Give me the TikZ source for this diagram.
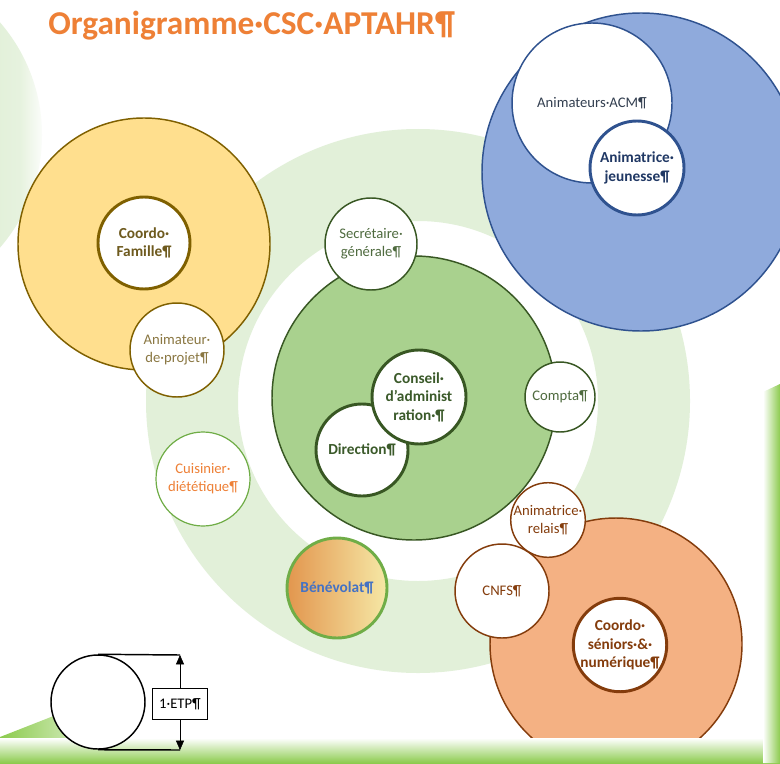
\documentclass[tikz,border=0pt]{standalone}
\usepackage{fontspec}
\setmainfont{Carlito}
\usetikzlibrary{arrows.meta}

\definecolor{ringvert}{HTML}{E2F0D9}
\definecolor{barvert}{HTML}{8CCB4E}
\definecolor{titreorange}{HTML}{EE8036}
\definecolor{polejaune}{HTML}{FFDF8E}
\definecolor{polejauneb}{HTML}{7F6000}
\definecolor{polebleu}{HTML}{8FAADC}
\definecolor{polebleub}{HTML}{2F528F}
\definecolor{polevert}{HTML}{A9D18E}
\definecolor{polevertb}{HTML}{385723}
\definecolor{poleorange}{HTML}{F4B183}
\definecolor{poleorangeb}{HTML}{843C0C}
\definecolor{vertclair}{HTML}{70AD47}
\definecolor{benevhaut}{HTML}{E2964E}
\definecolor{benevbas}{HTML}{F6E8A6}
\definecolor{txtvert}{HTML}{4F6B3F}
\definecolor{txtvertf}{HTML}{3B5A2A}
\definecolor{txtjaune}{HTML}{6E5A1E}
\definecolor{txtjaunec}{HTML}{8A7742}
\definecolor{txtbleu}{HTML}{333F50}
\definecolor{txtbleuf}{HTML}{203864}
\definecolor{txtbenev}{HTML}{4472C4}

\begin{document}
\begin{tikzpicture}[x=0.75pt, y=-0.75pt,
        pole/.style={circle, draw, line width=1.1pt, inner sep=0pt, minimum size=1.5pt*#1},
        poste/.style={circle, draw, fill=white, line width=1.1pt, inner sep=0pt, align=center,
                font=\fontsize{11}{13.5}\selectfont, minimum size=1.5pt*#1},
        fort/.style={line width=2.2pt, font=\fontsize{11.5}{13.8}\selectfont\bfseries}]
        \useasboundingbox (0,0) rectangle (780,763);
        \clip (0,0) rectangle (780,763);
        \fill[white] (0,0) rectangle (780,763);

        % fond
        \begin{scope}
                \clip (-130,135) circle[radius=129pt];
                \shade[left color=ringvert, right color=white, middle color=ringvert!85!white] (-5,0) rectangle (46,320);
        \end{scope}
        \fill[ringvert, even odd rule] (418,401) circle[radius=204pt] (418,401) circle[radius=135pt];

        % poles
        \node[pole=126, fill=polejaune, draw=polejauneb] (famille) at (144,244) {};
        \node[pole=159, fill=polebleu, draw=polebleub] (jeunesse) at (641,172) {};
        \node[pole=142, fill=polevert, draw=polevertb] (direct) at (414,398) {};
        \node[pole=126, fill=poleorange, draw=poleorangeb] (seniors) at (616,644) {};

        % famille
        \node[poste=46, fort, draw=polejauneb, text=txtjaune] (coordofam) at (144,243) {Coordo·\\Famille¶};
        \node[poste=47, draw=polejauneb, text=txtjaunec] (animprojet) at (177,350) {Animateur·\\de·projet¶};

        % jeunesse
        \node[poste=80, draw=polebleub, text=txtbleu] (acm) at (592,103) {Animateurs·ACM¶};
        \node[poste=47, fort, draw=polebleub, text=txtbleuf] (ajeune) at (637,168) {Animatrice·\\jeunesse¶};

        % direction
        \node[poste=46, draw=polevertb, text=txtvert] (secgen) at (371,244) {Secrétaire·\\générale¶};
        \node[poste=35, draw=polevertb, text=txtvert] (compta) at (560,397) {Compta¶};
        \node[poste=46, fort, draw=polevertb, text=txtvertf] (direction) at (362,450) {Direction¶};
        \node[poste=47, fort, draw=polevertb, text=txtvertf] (conseil) at (419,397) {Conseil·\\d’administ\\ration·¶};

        % seniors
        \node[poste=47, draw=poleorangeb, text=poleorangeb] (cnfs) at (502,591) {CNFS¶};
        \node[poste=37, draw=poleorangeb, text=poleorangeb] (relais) at (548,520) {Animatrice·\\relais¶};
        \node[poste=41, fort, draw=poleorangeb, text=poleorangeb] (coordosen) at (620,645) {Coordo·\\séniors·\&·\\numérique¶};

        % autres
        \node[poste=47, line width=0.9pt, draw=vertclair, text=titreorange] (cuisinier) at (203,479) {Cuisinier·\\diététique¶};
        \node[poste=50, fort, draw=vertclair, text=txtbenev, left color=benevhaut, right color=benevbas]
                (benevolat) at (337,588) {Bénévolat¶};

        % bandes
        \shade[left color=barvert, right color=white] (0,763) -- (0,737) -- (130,686) -- (130,763) -- cycle;
        \shade[top color=white, bottom color=barvert] (0,738) rectangle (780,763);
        \shade[left color=white, right color=barvert] (763,392) -- (780,384) -- (780,763) -- (763,763) -- cycle;

        % titre
        \node[anchor=base west, inner sep=0pt, text=titreorange,
                font=\fontsize{25}{29}\selectfont\bfseries] (titre) at (48,35) {Organigramme·CSC·APTAHR¶};

        % legende
        \node[circle, draw, fill=white, line width=1.1pt, inner sep=0pt, minimum size=70.5pt] (etalon) at (98,702) {};
        \node[draw, fill=white, line width=0.8pt, minimum width=41pt, minimum height=23pt, inner sep=1pt,
                font=\fontsize{11}{13}\selectfont] (etp) at (180,704) {1·ETP¶};
        \coordinate (haut) at (180,655);
        \coordinate (bas) at (180,750);
        \draw[line width=1.1pt] (etalon.north) -- (haut);
        \draw[line width=1.1pt] (etalon.south) -- (bas);
        \draw[-{Triangle[length=7pt,width=6pt]}] (etp.north) -- (haut);
        \draw[-{Triangle[length=7pt,width=6pt]}] (etp.south) -- (bas);
\end{tikzpicture}
\end{document}
